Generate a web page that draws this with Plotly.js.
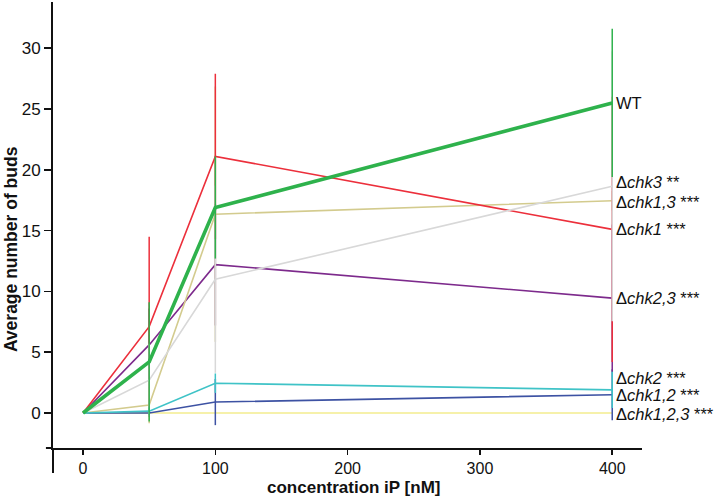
<!DOCTYPE html>
<html>
<head>
<meta charset="utf-8">
<script src="https://cdn.plot.ly/plotly-3.0.1.min.js"></script>
<style>
  html, body { margin: 0; padding: 0; background: #fff; }
  #graph { width: 714px; height: 498px; }
</style>
</head>
<body>
<div id="graph"></div>
<script>
// concentration of iP in nM
var conc = [0, 50, 100, 400];

// mean number of buds and error
var wt = [0, 4.2, 16.9, 25.5];
var wtErr = [0, 4.9, 4.2, 6.1];
var chk1 = [0, 7.1, 21.1, 15.1];
var chk1Err = [0, 7.4, 6.8, 10.9];
var chk13 = [0, 0.65, 16.35, 17.45];
var chk13Err = [0, 1.5, 10.5, 0.8];
var chk3 = [0, 2.7, 11.0, 18.65];
var chk3Err = [0, 3.0, 7.7, 11.1];
var chk23 = [0, 5.6, 12.2, 9.45];
var chk23Err = [0, 3.0, 5.0, 6.05];
var chk2 = [0, 0.15, 2.45, 1.9];
var chk2Err = [0, 0.3, 0.8, 1.5];
var chk12 = [0, 0, 0.9, 1.5];
var chk12Err = [0, 0, 1.9, 2.1];
var chk123 = [0, 0, 0, 0];
var chk123Err = [0, 0, 0, 0];

var labels = ['WT', 'Δ<i>chk1</i> ***', 'Δ<i>chk1,3</i> ***', 'Δ<i>chk3</i> **',
              'Δ<i>chk2,3</i> ***', 'Δ<i>chk2</i> ***', 'Δ<i>chk1,2</i> ***', 'Δ<i>chk1,2,3</i> ***'];

var font = 'Liberation Sans, Arial, sans-serif';

function line(y, err, color, w) {
  return {
    x: conc, y: y, type: 'scatter', mode: 'lines',
    line: {color: color, width: w},
    error_y: {type: 'data', array: err, visible: true, color: color, thickness: 1.5, width: 0},
    hoverinfo: 'skip', showlegend: false
  };
}

// drawing order, bottom to top
var data = [
  line(chk123, chk123Err, '#f3ec8e', 1.6),
  line(chk12, chk12Err, '#3d52a3', 1.6),
  line(chk23, chk23Err, '#7d2a8c', 1.6),
  line(chk13, chk13Err, '#d3cb8e', 1.6),
  line(chk1, chk1Err, '#ec2f3b', 1.6),
  line(chk3, chk3Err, '#d8d8d8', 1.6),
  line(chk2, chk2Err, '#3fc3c7', 1.6),
  line(wt, wtErr, '#2eb24c', 3.6)
];

// label at the end of each line
var ends = [wt, chk1, chk13, chk3, chk23, chk2, chk12, chk123];
var shifts = [0, 0, -1, 4, 0, 12, 0, -1];
var annotations = ends.map(function (s, i) {
  return {
    x: conc[conc.length - 1], y: s[s.length - 1], xref: 'x', yref: 'y',
    text: labels[i], showarrow: false, xanchor: 'left', yanchor: 'middle',
    xshift: 2, yshift: shifts[i],
    font: {family: font, size: 16.5, color: '#111'}
  };
});

annotations.push({
  xref: 'paper', yref: 'paper', x: -0.072, y: 0.445,
  text: '<b>Average number of buds</b>', textangle: -90, showarrow: false,
  xanchor: 'center', yanchor: 'middle',
  font: {family: font, size: 17.5, color: '#111'}
});
annotations.push({
  xref: 'paper', yref: 'paper', x: 0.51, y: -0.111,
  text: '<b>concentration iP [nM]</b>', showarrow: false,
  xanchor: 'center', yanchor: 'bottom', borderpad: 0,
  font: {family: font, size: 17, color: '#111'}
});

var layout = {
  width: 714, height: 498,
  margin: {l: 53, r: 72, t: 2, b: 50},
  paper_bgcolor: '#fff', plot_bgcolor: '#fff',
  xaxis: {
    range: [-22.7, 422.5], tickvals: [0, 100, 200, 300, 400],
    ticks: 'outside', ticklen: 5, tickwidth: 1.5, tickcolor: '#111',
    showline: true, linewidth: 2, linecolor: '#111',
    showgrid: false, zeroline: false,
    tickfont: {family: font, size: 16, color: '#111'}
  },
  yaxis: {
    range: [-2.88, 33.8], tickvals: [0, 5, 10, 15, 20, 25, 30],
    ticks: 'outside', ticklen: 7, tickwidth: 1.5, tickcolor: '#111',
    showline: true, linewidth: 2, linecolor: '#111',
    showgrid: false, zeroline: false,
    tickfont: {family: font, size: 17, color: '#111'}
  },
  shapes: [
    // y axis runs on below the x axis, x axis starts a bit left of it
    {type: 'line', xref: 'paper', yref: 'paper', x0: 0, x1: 0, y0: 0, y1: -0.056,
     line: {color: '#111', width: 2}},
    {type: 'line', xref: 'paper', yref: 'paper', x0: -0.012, x1: 0, y0: 0, y1: 0,
     line: {color: '#111', width: 2}}
  ],
  annotations: annotations
};

Plotly.newPlot('graph', data, layout, {displayModeBar: false, staticPlot: true});
</script>
</body>
</html>
